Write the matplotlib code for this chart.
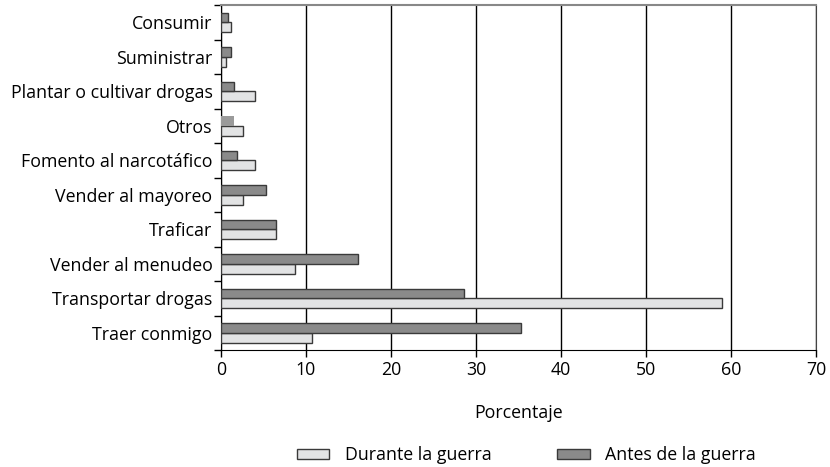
import numpy as np
import matplotlib.pyplot as plt
from matplotlib.patches import Patch

plt.rcParams['font.family'] = ['Open Sans', 'DejaVu Sans']

# Data (percent)
categories = ['Consumir', 'Suministrar', 'Plantar o cultivar drogas', 'Otros',
              'Fomento al narcotáfico', 'Vender al mayoreo', 'Traficar',
              'Vender al menudeo', 'Transportar drogas', 'Traer conmigo']
durante = [1.25, 0.6, 4.0, 2.6, 4.0, 2.6, 6.55, 8.7, 58.9, 10.7]
antes = [0.8, 1.2, 1.5, 1.6, 1.85, 5.3, 6.45, 16.1, 28.6, 35.3]

light = '#e2e3e4'
dark = '#8a8a8a'
edge = '#3a3a3a'
fs = 12.8

fig = plt.figure(figsize=(8.3, 4.67), dpi=100)
ax = fig.add_axes([0.266, 0.25, 0.717, 0.739])

n = len(categories)
y = np.arange(n)[::-1]  # first category on top
h = 0.28

ax.barh(y - h / 2, durante, height=h, color=light, edgecolor=edge, linewidth=1, zorder=3)
bars_a = ax.barh(y + h / 2, antes, height=h, color=dark, edgecolor=edge, linewidth=1, zorder=3)
# 'Otros' antes bar is drawn lighter and without outline
i_otros = categories.index('Otros')
bars_a[i_otros].set_facecolor('#9a9a9a')
bars_a[i_otros].set_edgecolor('none')

ax.set_xlim(0, 70)
ax.set_ylim(-0.5, n - 0.5)
ax.set_xticks(range(0, 71, 10))
ax.set_xticklabels([str(v) for v in range(0, 71, 10)], fontsize=fs)
ax.set_yticks(y)
ax.set_yticklabels(categories, fontsize=fs)
ax.tick_params(axis='y', length=0, pad=6)
ax.set_yticks(np.arange(n + 1) - 0.5, minor=True)
ax.tick_params(axis='y', which='minor', length=5, width=1)
ax.tick_params(axis='x', length=5, width=1, pad=3)

ax.xaxis.grid(True, color='black', linewidth=1, zorder=1)
ax.spines['top'].set_color('#888888')
ax.spines['top'].set_linewidth(1.5)
ax.spines['right'].set_color('#444444')
ax.set_xlabel('Porcentaje', fontsize=fs, labelpad=18)

handles = [Patch(facecolor=light, edgecolor=edge, linewidth=1),
           Patch(facecolor=dark, edgecolor=edge, linewidth=1)]
fig.legend(handles, ['Durante la guerra', 'Antes de la guerra'], loc='center',
           bbox_to_anchor=(0.634, 0.025), ncol=2, frameon=False, fontsize=fs,
           handlelength=1.85, handleheight=0.55, columnspacing=3.7, handletextpad=0.85)

plt.savefig('out.png', dpi=100)
